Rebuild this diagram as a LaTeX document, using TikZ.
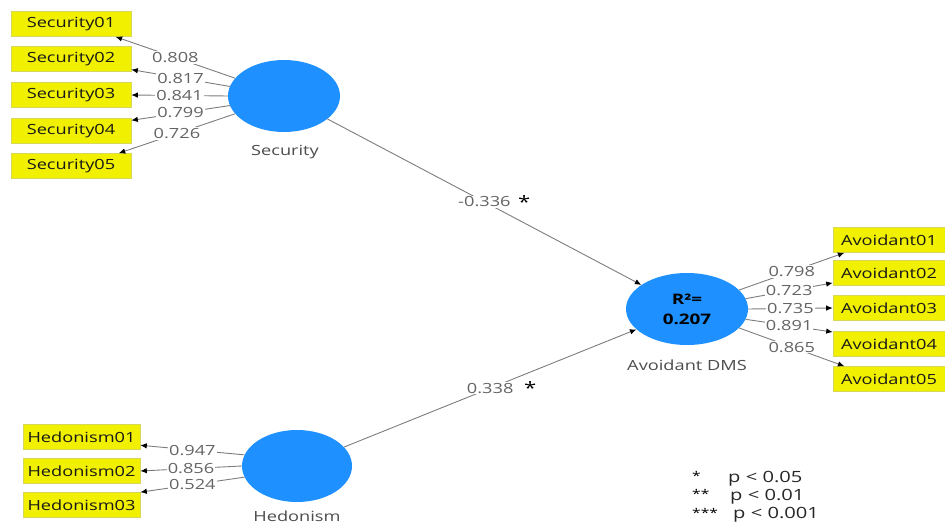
\documentclass[tikz,border=0pt]{standalone}
\usepackage{fontspec}
\setmainfont{Open Sans}[FakeStretch=1.3]
\usetikzlibrary{arrows.meta,positioning,shapes.geometric}
\definecolor{lvblue}{RGB}{30,144,255}
\definecolor{indyellow}{RGB}{240,240,0}
\definecolor{indborder}{RGB}{215,215,90}
\definecolor{pathgrey}{RGB}{125,125,125}
\definecolor{loadgrey}{RGB}{100,100,100}
\begin{document}
\begin{tikzpicture}[x=1pt,y=-1pt,
		latent/.style={ellipse,fill=lvblue,inner sep=0pt,minimum height=72pt},
		indicator/.style={rectangle,fill=indyellow,draw=indborder,line width=0.6pt,minimum height=25pt,inner sep=0pt,text=black!90,font=\fontsize{14}{16}\selectfont},
		load/.style={fill=white,inner sep=1pt,text=loadgrey,font=\fontsize{14}{16}\selectfont},
		conn/.style={draw=pathgrey,line width=0.9pt,-{Latex[length=6.5pt,width=5.5pt,color=black]}},
		caption/.style={text=black!70,font=\fontsize{14}{16}\selectfont},
		signif/.style={text=black,font=\fontsize{17}{17}\selectfont,inner sep=0pt}]
			\useasboundingbox (0,0) rectangle (945,526);

			\node[latent,minimum width=112pt] (sec) at (284,96) {};
			\node[latent,minimum width=110pt] (hed) at (297,466) {};
			\node[latent,minimum width=122pt,align=center,font=\bfseries\fontsize{14.5}{20}\selectfont] (avd) at (687,309) {R²=\\0.207};

			\node[caption] (secl) at (285,152) {Security};
			\node[caption] (hedl) at (297,516) {Hedonism};
			\node[caption] (avdl) at (687,365) {Avoidant DMS};

			\node[indicator,minimum width=120pt] (s1) at (71, 24) {Security01};
			\node[indicator,minimum width=120pt] (s2) at (71, 59) {Security02};
			\node[indicator,minimum width=120pt] (s3) at (71, 95) {Security03};
			\node[indicator,minimum width=120pt] (s4) at (71,131) {Security04};
			\node[indicator,minimum width=120pt] (s5) at (71,166) {Security05};

			\node[indicator,minimum width=117pt] (h1) at (81.5,437) {Hedonism01};
			\node[indicator,minimum width=117pt] (h2) at (81.5,471) {Hedonism02};
			\node[indicator,minimum width=117pt] (h3) at (81.5,505) {Hedonism03};

			\node[indicator,minimum width=112pt] (a1) at (889,240) {Avoidant01};
			\node[indicator,minimum width=112pt] (a2) at (889,273) {Avoidant02};
			\node[indicator,minimum width=112pt] (a3) at (889,308) {Avoidant03};
			\node[indicator,minimum width=112pt] (a4) at (889,344) {Avoidant04};
			\node[indicator,minimum width=112pt] (a5) at (889,379) {Avoidant05};

			\draw[conn] (sec.160) -- (s1.-16) node[load,pos=0.5] (ls1) {0.808};
			\draw[conn] (sec.170) -- (s2.-10) node[load,pos=0.5] (ls2) {0.817};
			\draw[conn] (sec.180) -- (s3.east) node[load,pos=0.5] (ls3) {0.841};
			\draw[conn] (sec.190) -- (s4.10) node[load,pos=0.5] (ls4) {0.799};
			\draw[conn] (sec.200) -- (s5.15) node[load,pos=0.5] (ls5) {0.726};

			\draw[conn] (hed.168) -- (h1.-8) node[load,pos=0.5] (lh1) {0.947};
			\draw[conn] (hed.180) -- (h2.east) node[load,pos=0.5] (lh2) {0.856};
			\draw[conn] (hed.192) -- (h3.north east) node[load,pos=0.5] (lh3) {0.524};

			\draw[conn] (avd.20) -- (a1.196) node[load,pos=0.5] (la1) {0.798};
			\draw[conn] (avd.10) -- (a2.190) node[load,pos=0.5] (la2) {0.723};
			\draw[conn] (avd.0) -- (a3.west) node[load,pos=0.5] (la3) {0.735};
			\draw[conn] (avd.-10) -- (a4.168) node[load,pos=0.5] (la4) {0.891};
			\draw[conn] (avd.-20) -- (a5.164) node[load,pos=0.5] (la5) {0.865};

			\draw[conn] (sec) -- (avd) node[load,pos=0.5] (psec) {-0.336};
			\draw[conn] (hed) -- (avd) node[load,pos=0.5] (phed) {0.338};
			\node[signif,right=6pt of psec] (ssec) {*};
			\node[signif,right=9pt of phed] (shed) {*};

			\node[anchor=west,inner sep=0pt,font=\fontsize{12}{12}\selectfont] (k1) at (692,476) {*};
			\node[anchor=west,inner sep=0pt,font=\fontsize{12}{12}\selectfont] (k2) at (692,494) {**};
			\node[anchor=west,inner sep=0pt,font=\fontsize{12}{12}\selectfont] (k3) at (692,513) {***};
			\node[anchor=west,inner sep=0pt,text=black!85,font=\fontsize{15.5}{16}\selectfont] (p1) at (728,479) {p < 0.05};
			\node[anchor=west,inner sep=0pt,text=black!85,font=\fontsize{15.5}{16}\selectfont] (p2) at (730,497) {p < 0.01};
			\node[anchor=west,inner sep=0pt,text=black!85,font=\fontsize{15.5}{16}\selectfont] (p3) at (733,515) {p < 0.001};
		\end{tikzpicture}
\end{document}
